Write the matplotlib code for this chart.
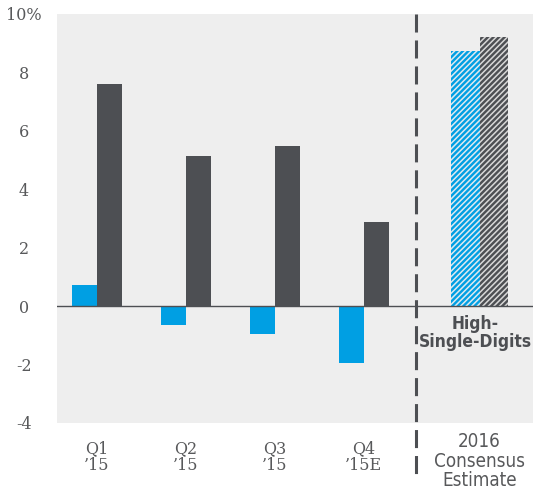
import numpy as np
import matplotlib.pyplot as plt

quarters = ["Q1\n\u201915", "Q2\n\u201915", "Q3\n\u201915", "Q4\n\u201915E"]
blue_vals = [0.71, -0.65, -0.95, -1.95]
dark_vals = [7.6, 5.12, 5.48, 2.88]

estimate_label = "2016\nConsensus\nEstimate"
estimate_blue = 8.73
estimate_dark = 9.21
estimate_note = "High-\nSingle-Digits"

y_ticks = [-4, -2, 0, 2, 4, 6, 8, 10]
y_tick_labels = ["-4", "-2", "0", "2", "4", "6", "8", "10%"]

BLUE = "#009fe3"
DARK = "#4d4f53"
BG = "#eeeeee"
TEXT = "#58595b"

fig = plt.figure(figsize=(5.33, 4.93), dpi=100)
ax = fig.add_axes([0.107, 0.142, 0.893, 0.830])
ax.set_facecolor(BG)
fig.patch.set_facecolor("white")

x = np.arange(len(quarters))
est_x = 4.3
sep_x = 3.59
width = 0.28
est_width = 0.32

# quarterly bars
ax.bar(x - width / 2, blue_vals, width, color=BLUE, linewidth=0, zorder=2)
ax.bar(x + width / 2, dark_vals, width, color=DARK, linewidth=0, zorder=2)

# 2016 estimate, hatched
plt.rcParams["hatch.linewidth"] = 1.1
ax.bar(est_x - est_width / 2, estimate_blue, est_width, color=BLUE,
       edgecolor="#dfe9ef", hatch="//////", linewidth=0, zorder=2)
ax.bar(est_x + est_width / 2, estimate_dark, est_width, color=DARK,
       edgecolor="#d8d8d8", hatch="//////", linewidth=0, zorder=2)

ax.axhline(0, color=DARK, linewidth=1.0, zorder=3)
ax.plot([sep_x, sep_x], [10, -5.95], color=DARK, linewidth=2.2,
        dashes=(5.9, 2.6), clip_on=False, zorder=4)

ax.text(est_x - 0.05, -0.3, estimate_note, ha="center", va="top", fontsize=12.5,
        fontweight="bold", color=DARK, family="DejaVu Sans",
        fontstretch="condensed", linespacing=1.0)

ax.set_xlim(-0.45, 4.9)
ax.set_ylim(-4, 10)
ax.set_yticks(y_ticks)
ax.set_yticklabels(y_tick_labels, family="DejaVu Serif", fontsize=11.5,
                   color=TEXT, ha="center")
ax.set_xticks(x)
ax.set_xticklabels(quarters, family="DejaVu Serif", fontsize=11.5, color=TEXT,
                   linespacing=1.0)
ax.tick_params(axis="x", length=0, pad=12)
ax.tick_params(axis="y", length=0, pad=24)

ax.text(est_x, -4.3, estimate_label, ha="center", va="top", fontsize=13.5,
        color=TEXT, family="DejaVu Sans", fontstretch="condensed",
        linespacing=1.05)

for spine in ax.spines.values():
    spine.set_visible(False)

fig.savefig("out.png", dpi=100, facecolor="white")
